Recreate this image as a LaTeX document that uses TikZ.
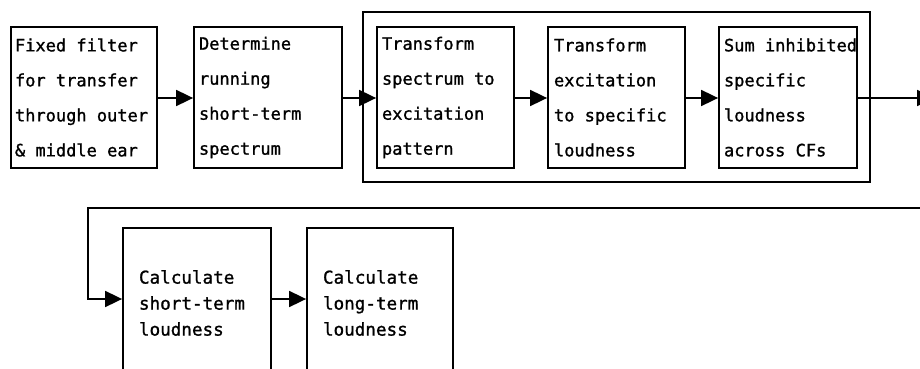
\documentclass[tikz,border=0pt]{standalone}
\usepackage{fontspec}
\newfontfamily\diagmono[FakeBold=1.2]{DejaVu Sans Mono}
\usetikzlibrary{arrows.meta}
\begin{document}
\begin{tikzpicture}[x=1pt,y=-1pt,
  line width=1.8pt,
  box/.style={draw, rectangle, inner sep=0pt},
  txt/.style={align=left, inner sep=0pt, font=\diagmono\fontsize{17}{35}\selectfont},
  txtb/.style={align=left, inner sep=0pt, font=\diagmono\fontsize{17.6}{26}\selectfont},
  flow/.style={-{Triangle[length=17pt,width=16pt]}, line width=1.8pt}]
\useasboundingbox (0,0) rectangle (920,369);
\clip (0,0) rectangle (920,369);
% outer frame
\node[box, minimum width=507pt, minimum height=170pt] (frame) at (616.5,97) {};
% top boxes
\node[box, minimum width=146pt, minimum height=141pt] (b1) at (84,97.5) {};
\node[box, minimum width=148pt, minimum height=141pt] (b2) at (268,97.5) {};
\node[box, minimum width=137pt, minimum height=141pt] (b3) at (445.5,97.5) {};
\node[box, minimum width=137pt, minimum height=141pt] (b4) at (616.5,97.5) {};
\node[box, minimum width=138pt, minimum height=141pt] (b5) at (788,97.5) {};
% bottom boxes
\node[box, minimum width=148pt, minimum height=146pt] (b6) at (197,301) {};
\node[box, minimum width=146pt, minimum height=146pt] (b7) at (380,301) {};
% texts
\node[txt, anchor=west] (t1) at ([xshift=4pt]b1.west) {Fixed filter\\for transfer\\through outer\\\& middle ear};
\node[txt, anchor=west] (t2) at ([xshift=5pt]b2.west) {Determine\\running\\short-term\\spectrum};
\node[txt, anchor=west] (t3) at ([xshift=5pt]b3.west) {Transform\\spectrum to\\excitation\\pattern};
\node[txt, anchor=west] (t4) at ([xshift=6pt]b4.west) {Transform\\excitation\\to specific\\loudness};
\node[txt, anchor=west] (t5) at ([xshift=5pt]b5.west) {Sum inhibited\\specific\\loudness\\across CFs};
\node[txtb, anchor=west] (t6) at ([xshift=16pt,yshift=-2pt]b6.west) {Calculate\\short-term\\loudness};
\node[txtb, anchor=west] (t7) at ([xshift=16pt,yshift=-2pt]b7.west) {Calculate\\long-term\\loudness};
% connectors
\coordinate (out) at (934,98);
\coordinate (back) at (925,208);
\coordinate (corner) at (88,208);
\draw[flow] (b1.east |- 0,98) -- (b2.west |- 0,98);
\draw[flow] (b2.east |- 0,98) -- (b3.west |- 0,98);
\draw[flow] (b3.east |- 0,98) -- (b4.west |- 0,98);
\draw[flow] (b4.east |- 0,98) -- (b5.west |- 0,98);
\draw[flow] (b5.east |- 0,98) -- (out);
\draw[flow] (back) -- (corner) |- (b6.west |- 0,299);
\draw[flow] (b6.east |- 0,299) -- (b7.west |- 0,299);
\end{tikzpicture}
\end{document}
